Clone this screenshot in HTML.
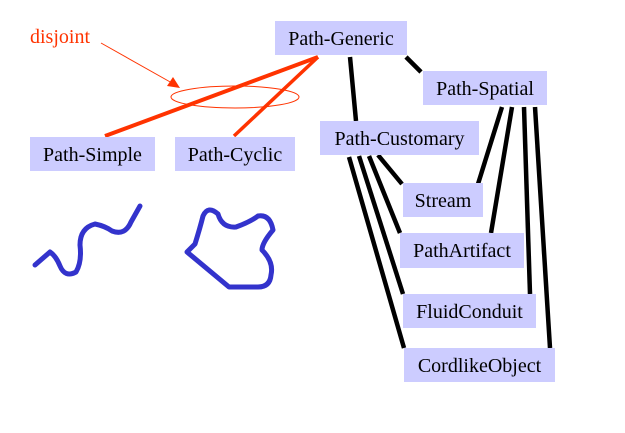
<!DOCTYPE html>
<html><head><style>
body{margin:0;background:#fff;width:625px;height:433px;overflow:hidden}
.b{position:absolute;background:#ccccff;font:20px "Liberation Serif",serif;color:#000;display:flex;align-items:center;justify-content:center;padding-top:2px;box-sizing:border-box}
</style></head><body>
<svg width="625" height="433" style="position:absolute;left:0;top:0">
<g stroke="#000" stroke-width="4.5">
<line x1="350" y1="57" x2="356" y2="121"/>
<line x1="406" y1="57" x2="421" y2="72"/>
<line x1="502" y1="107" x2="478" y2="184"/>
<line x1="512" y1="107" x2="491" y2="233"/>
<line x1="524" y1="107" x2="530" y2="294"/>
<line x1="535" y1="107" x2="550" y2="348"/>
<line x1="378" y1="155" x2="402" y2="184"/>
<line x1="369" y1="156" x2="400" y2="233"/>
<line x1="359" y1="156" x2="403" y2="294"/>
<line x1="349" y1="157" x2="404" y2="348"/>
</g>
<g stroke="#ff3300" fill="none">
<line x1="318" y1="57" x2="105" y2="136" stroke-width="4"/>
<line x1="318" y1="57" x2="234" y2="136" stroke-width="3.5"/>
<ellipse cx="235" cy="97" rx="64" ry="11" stroke-width="1"/>
<line x1="101" y1="43" x2="172" y2="83" stroke-width="1"/>
</g>
<polygon points="180,88 167,86 173,77" fill="#ff3300"/>
<g stroke="#3333cc" stroke-width="5" fill="none" stroke-linejoin="round" stroke-linecap="round">
<path d="M35,265 L50,252 Q56,256 60,266 Q65,278 76,272 Q82,262 80,245 Q80,228 95,224 Q105,226 112,231 Q125,236 131,222 L140,206"/>
<path d="M187,252 L195,244 Q200,228 203,216 Q208,205 218,214 Q222,228 236,227 Q250,222 258,216 Q270,214 273,230 Q262,243 262,250 Q274,262 271,275 Q270,287 258,287 L229,287 Z"/>
</g>
</svg>
<div style="position:absolute;left:30px;top:26px;font:20px 'Liberation Serif',serif;color:#ff3300">disjoint</div>
<div class="b" style="left:275px;top:21px;width:132px;height:34px">Path-Generic</div>
<div class="b" style="left:423px;top:71px;width:124px;height:34px">Path-Spatial</div>
<div class="b" style="left:320px;top:121px;width:159px;height:34px">Path-Customary</div>
<div class="b" style="left:403px;top:183px;width:80px;height:34px">Stream</div>
<div class="b" style="left:400px;top:233px;width:124px;height:35px">PathArtifact</div>
<div class="b" style="left:403px;top:294px;width:133px;height:34px">FluidConduit</div>
<div class="b" style="left:404px;top:348px;width:151px;height:34px">CordlikeObject</div>
<div class="b" style="left:30px;top:137px;width:125px;height:34px">Path-Simple</div>
<div class="b" style="left:175px;top:137px;width:120px;height:34px">Path-Cyclic</div>
</body></html>
